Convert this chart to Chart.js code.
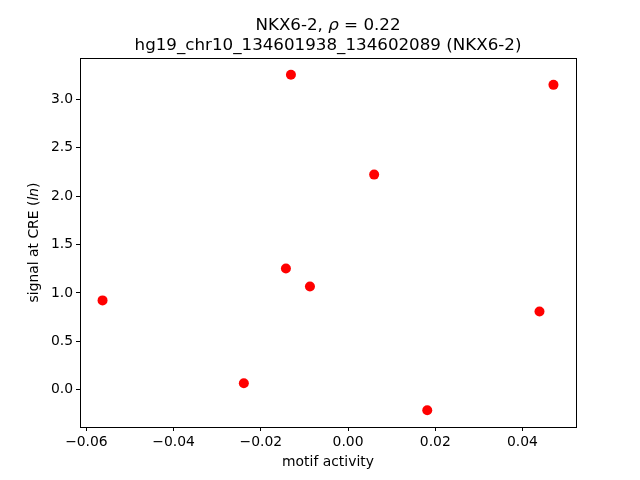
<!DOCTYPE html>
<html>
<head>
<meta charset="utf-8">
<script src="https://cdn.jsdelivr.net/npm/chart.js@4/dist/chart.umd.min.js"></script>
<style>
  html, body { margin: 0; padding: 0; background: #fff; }
  #wrap { width: 640px; height: 480px; }
</style>
</head>
<body>
<div id="wrap"><canvas id="c" width="640" height="480"></canvas></div>
<script>
// Data
const motifActivity = [-0.0563, -0.0239, -0.01425, -0.0131, -0.00874, 0.00598, 0.01816, 0.0439, 0.0471];
const signalAtCRE   = [0.923, 0.067, 1.253, 3.253, 1.067, 2.222, -0.211, 0.809, 3.149];
const xTickValues = [-0.06, -0.04, -0.02, 0.00, 0.02, 0.04];
const yTickValues = [0.0, 0.5, 1.0, 1.5, 2.0, 2.5, 3.0];
const titleGene = "NKX6-2";
const titleRho = "0.22";
const titleLine2 = "hg19_chr10_134601938_134602089 (NKX6-2)";
const xLabel = "motif activity";

const points = motifActivity.map((x, i) => ({ x: x, y: signalAtCRE[i] }));

// Axis limits like matplotlib's 5% margins
function padRange(arr) {
  const lo = Math.min(...arr), hi = Math.max(...arr), m = (hi - lo) * 0.05;
  return [lo - m, hi + m];
}
const [xMin, xMax] = padRange(motifActivity);
const [yMin, yMax] = padRange(signalAtCRE);

const FONT = "'DejaVu Sans', sans-serif";
function fmt(v, d) {
  if (Math.abs(v) < 1e-9) v = 0;
  return v.toFixed(d).replace('-', '\u2212');
}

const framePlugin = {
  id: 'frame',
  afterDraw(chart) {
    const { ctx, chartArea: a } = chart;
    ctx.save();
    ctx.strokeStyle = '#000';
    ctx.lineWidth = 1;
    ctx.strokeRect(Math.round(a.left) + 0.5, Math.round(a.top) + 0.5,
                   Math.round(a.right - a.left), Math.round(a.bottom - a.top));
    // Title
    const cx = (a.left + a.right) / 2;
    ctx.fillStyle = '#000';
    ctx.textBaseline = 'alphabetic';
    const f = "16.7px " + FONT;
    const fi = "italic 16.7px " + FONT;
    ctx.font = f;
    const p1 = titleGene + ", ";
    const p3 = " = " + titleRho;
    const w1 = ctx.measureText(p1).width;
    const w3 = ctx.measureText(p3).width;
    ctx.font = fi;
    const w2 = ctx.measureText("\u03c1").width;
    let x0 = cx - (w1 + w2 + w3) / 2;
    const yb1 = 30;
    ctx.font = f; ctx.textAlign = 'left';
    ctx.fillText(p1, x0, yb1);
    ctx.font = fi; ctx.fillText("\u03c1", x0 + w1, yb1);
    ctx.font = f; ctx.fillText(p3, x0 + w1 + w2, yb1);
    ctx.textAlign = 'center';
    ctx.fillText(titleLine2, cx, 50);
    // Y label with italic ln
    ctx.translate(38, (a.top + a.bottom) / 2);
    ctx.rotate(-Math.PI / 2);
    const fy = "13.9px " + FONT, fyi = "italic 13.9px " + FONT;
    ctx.font = fy;
    const s1 = "signal at CRE (", s3 = ")";
    const u1 = ctx.measureText(s1).width, u3 = ctx.measureText(s3).width;
    ctx.font = fyi;
    const u2 = ctx.measureText("ln").width;
    let y0 = -(u1 + u2 + u3) / 2;
    ctx.textAlign = 'left';
    ctx.font = fy; ctx.fillText(s1, y0, 0);
    ctx.font = fyi; ctx.fillText("ln", y0 + u1, 0);
    ctx.font = fy; ctx.fillText(s3, y0 + u1 + u2, 0);
    ctx.restore();
  }
};

new Chart(document.getElementById('c'), {
  type: 'scatter',
  data: {
    datasets: [{
      data: points,
      backgroundColor: '#ff0000',
      borderColor: '#ff0000',
      borderWidth: 0,
      pointRadius: 5,
      pointHoverRadius: 5
    }]
  },
  options: {
    responsive: false,
    animation: false,
    devicePixelRatio: 1,
    layout: { padding: { top: 58, right: 64, left: 0, bottom: 0 } },
    plugins: {
      legend: { display: false },
      tooltip: { enabled: false },
      title: { display: false }
    },
    scales: {
      x: {
        type: 'linear',
        min: xMin, max: xMax,
        afterBuildTicks(scale) { scale.ticks = xTickValues.map(v => ({ value: v })); },
        afterFit(scale) { scale.height = 480 - 427; },
        ticks: {
          includeBounds: false,
          color: '#000',
          font: { family: FONT, size: 13.9 },
          padding: 3,
          maxRotation: 0,
          autoSkip: false,
          callback: v => fmt(v, 2)
        },
        grid: { drawOnChartArea: false, drawTicks: true, tickLength: 4, color: '#000' },
        border: { display: true, color: '#000' },
        title: { display: true, text: xLabel, color: '#000', font: { family: FONT, size: 13.9, lineHeight: 1.2 }, padding: { top: 0, bottom: 9 } }
      },
      y: {
        type: 'linear',
        min: yMin, max: yMax,
        afterBuildTicks(scale) { scale.ticks = yTickValues.map(v => ({ value: v })); },
        afterFit(scale) { scale.width = 80; },
        ticks: {
          includeBounds: false,
          color: '#000',
          font: { family: FONT, size: 13.9 },
          padding: 3,
          autoSkip: false,
          callback: v => fmt(v, 1)
        },
        grid: { drawOnChartArea: false, drawTicks: true, tickLength: 4, color: '#000' },
        border: { display: true, color: '#000' }
      }
    }
  },
  plugins: [framePlugin]
});
</script>
</body>
</html>
